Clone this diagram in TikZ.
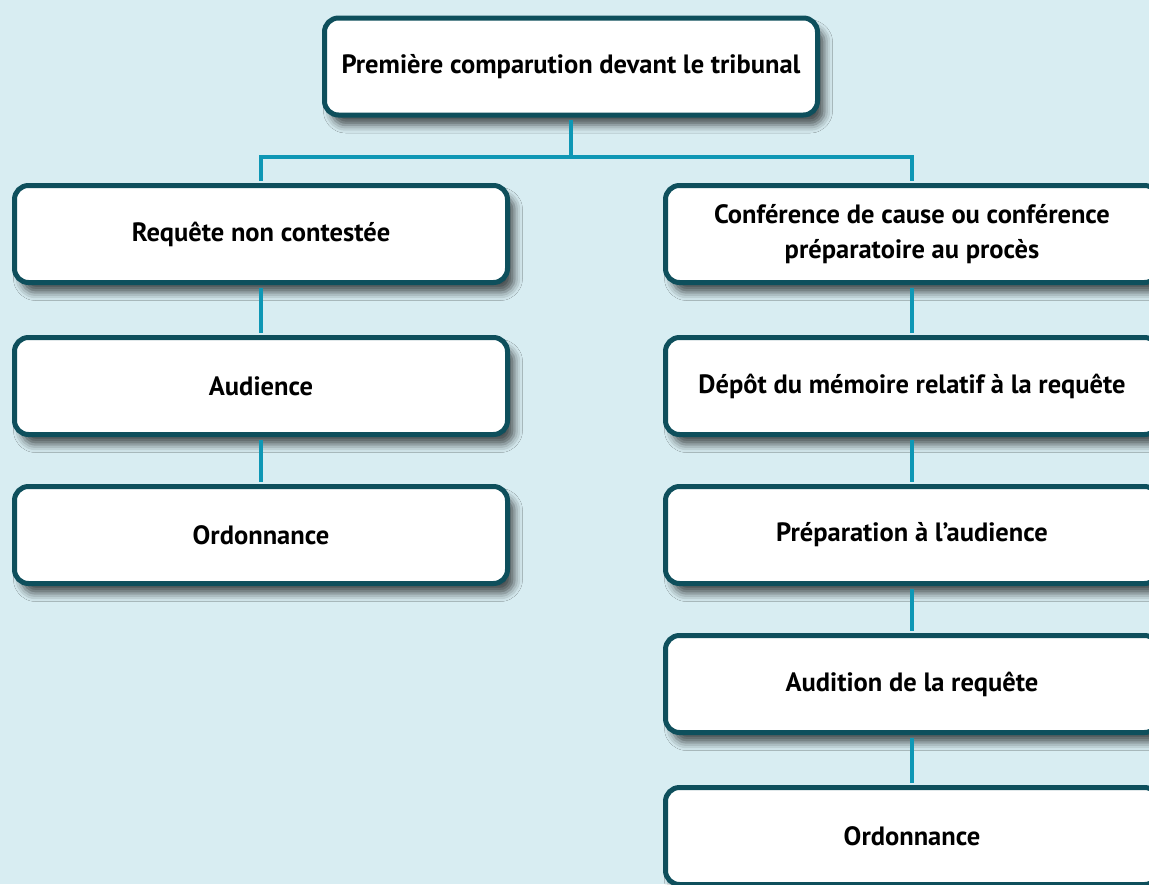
\documentclass[tikz,border=0pt]{standalone}
\usepackage{fontspec}
\setmainfont{PT Sans}
\usetikzlibrary{shadows.blur}
\definecolor{bgc}{HTML}{D8EDF2}
\definecolor{boxc}{HTML}{0E4F5C}
\definecolor{linec}{HTML}{0E97B5}
\tikzset{
  stepbox/.style={draw=boxc, line width=5pt, fill=white, rounded corners=14pt,
    minimum width=493pt, minimum height=97pt, align=center, inner sep=0pt,
    font=\fontsize{26.5}{35}\selectfont\bfseries,
    blur shadow={shadow xshift=7pt, shadow yshift=-10pt, shadow blur radius=8pt, shadow opacity=65}},
  conn/.style={draw=linec, line width=4pt}
}
\begin{document}
\begin{tikzpicture}[x=1pt,y=-1pt]
\useasboundingbox (0,0) rectangle (1149,884);
\clip (0,0) rectangle (1149,884);
\fill[bgc] (0,0) rectangle (1149,884);
\coordinate (bar) at (571,157);
\node[stepbox] (top) at (571,66.5) {Première comparution devant le tribunal};
\node[stepbox] (req) at (261,234) {Requête non contestée};
\node[stepbox] (aud) at (261,386) {Audience};
\node[stepbox] (ord1) at (261,535) {Ordonnance};
\node[stepbox] (conf) at (912,234) {Conférence de cause ou conférence\\préparatoire au procès};
\node[stepbox] (dep) at (912,386) {Dépôt du mémoire relatif à la requête};
\node[stepbox] (prep) at (912,535) {Préparation à l’audience};
\node[stepbox] (audi) at (912,684) {Audition de la requête};
\node[stepbox] (ord2) at (912,836) {Ordonnance};
\draw[conn] ([yshift=-2.5pt]top.south) -- (bar);
\draw[conn] ([yshift=2.5pt]req.north) |- (bar) -| ([yshift=2.5pt]conf.north);
\draw[conn] ([yshift=-2.5pt]req.south) -- ([yshift=2.5pt]aud.north);
\draw[conn] ([yshift=-2.5pt]aud.south) -- ([yshift=2.5pt]ord1.north);
\draw[conn] ([yshift=-2.5pt]conf.south) -- ([yshift=2.5pt]dep.north);
\draw[conn] ([yshift=-2.5pt]dep.south) -- ([yshift=2.5pt]prep.north);
\draw[conn] ([yshift=-2.5pt]prep.south) -- ([yshift=2.5pt]audi.north);
\draw[conn] ([yshift=-2.5pt]audi.south) -- ([yshift=2.5pt]ord2.north);
\end{tikzpicture}
\end{document}
